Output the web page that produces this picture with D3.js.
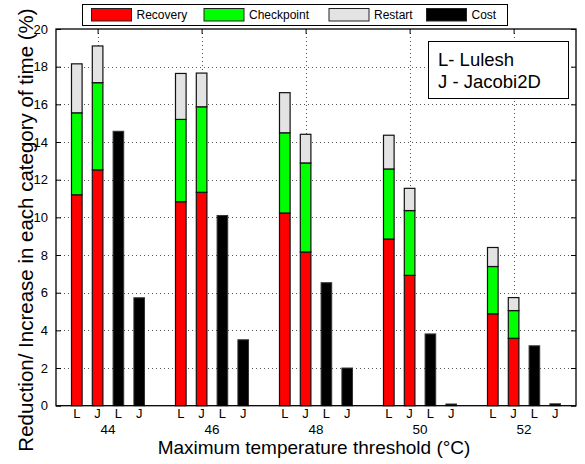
<!DOCTYPE html>
<html>
<head>
<meta charset="utf-8">
<script src="https://cdn.jsdelivr.net/npm/d3@7"></script>
<style>
  body { margin: 0; background: #fff; }
  svg { display: block; font-family: "Liberation Sans", Arial, Helvetica, sans-serif; }
</style>
</head>
<body>
<div id="chart"></div>
<script>
// data
const thresholds = ["44", "46", "48", "50", "52"];
const apps = ["L", "J"];
const categories = ["Recovery", "Checkpoint", "Restart", "Cost"];
const colors = ["#ff0000", "#00ff00", "#e3e3e3", "#000000"];

const recoveryL   = [11.2, 10.83, 10.23, 8.85, 4.88];
const checkpointL = [4.35, 4.37, 4.26, 3.72, 2.51];
const restartL    = [2.6, 2.44, 2.13, 1.79, 1.01];
const recoveryJ   = [12.52, 11.33, 8.16, 6.92, 3.58];
const checkpointJ = [4.63, 4.54, 4.73, 3.44, 1.47];
const restartJ    = [1.95, 1.79, 1.52, 1.18, 0.69];
const costL = [14.57, 10.1, 6.53, 3.81, 3.18];
const costJ = [5.73, 3.5, 2.0, 0.09, 0.1];
const yTicks = [0, 2, 4, 6, 8, 10, 12, 14, 16, 18, 20];

const W = 585, H = 464;
const plot = { left: 56, right: 576, top: 29, bottom: 405.7 };

const svg = d3.select("#chart").append("svg").attr("width", W).attr("height", H);

// slot positions: 5 slots per group (stacked L, stacked J, cost L, cost J, gap)
const x = d3.scaleLinear().domain([-1, 24]).range([plot.left, plot.right]);
const y = d3.scaleLinear().domain([0, 20]).range([plot.bottom, plot.top]);
const barW = (x(1) - x(0)) * 0.51;

// table for stacking
const stackRows = [];
thresholds.forEach((t, g) => {
    stackRows.push({ slot: g * 5, Recovery: recoveryL[g], Checkpoint: checkpointL[g], Restart: restartL[g] });
    stackRows.push({ slot: g * 5 + 1, Recovery: recoveryJ[g], Checkpoint: checkpointJ[g], Restart: restartJ[g] });
});
const costRows = [];
thresholds.forEach((t, g) => {
    costRows.push({ slot: g * 5 + 2, v: costL[g] });
    costRows.push({ slot: g * 5 + 3, v: costJ[g] });
});

// ===== grid (dotted)
const grid = svg.append("g").attr("stroke", "#555").attr("stroke-dasharray", "1,3").attr("stroke-width", 1);
grid.selectAll("line.h").data(yTicks.slice(1, -1)).enter().append("line")
    .attr("x1", plot.left).attr("x2", plot.right)
    .attr("y1", d => Math.round(y(d)) + 0.5).attr("y2", d => Math.round(y(d)) + 0.5);
const xGrid = thresholds.map((t, g) => g * 5 + 1);
grid.selectAll("line.v").data(xGrid).enter().append("line")
    .attr("y1", plot.top).attr("y2", plot.bottom)
    .attr("x1", d => Math.round(x(d)) + 0.5).attr("x2", d => Math.round(x(d)) + 0.5);

// ===== stacked bars
const series = d3.stack().keys(categories.slice(0, 3))(stackRows);
svg.append("g").selectAll("g").data(series).enter().append("g")
    .attr("fill", (d, i) => colors[i])
    .selectAll("rect").data(d => d).enter().append("rect")
    .attr("x", d => x(d.data.slot) - barW / 2)
    .attr("width", barW)
    .attr("y", d => y(d[1]))
    .attr("height", d => y(d[0]) - y(d[1]))
    .attr("stroke", "#111").attr("stroke-width", 1.2);

// ===== cost bars
svg.append("g").selectAll("rect").data(costRows).enter().append("rect")
    .attr("x", d => x(d.slot) - barW / 2)
    .attr("width", barW)
    .attr("y", d => y(d.v))
    .attr("height", d => y(0) - y(d.v))
    .attr("fill", colors[3]).attr("stroke", "#333").attr("stroke-width", 1);

// ===== axes (box with inward ticks)
const axL = svg.append("g").attr("transform", `translate(${plot.left},0)`)
    .call(d3.axisLeft(y).tickValues(yTicks).tickSize(-5).tickPadding(8).tickFormat(d3.format("d")));
axL.select(".domain").remove();
axL.selectAll("text").attr("font-size", 13).attr("fill", "#000");
const axR = svg.append("g").attr("transform", `translate(${plot.right},0)`)
    .call(d3.axisRight(y).tickValues(yTicks).tickSize(-5).tickFormat(""));
axR.select(".domain").remove();
const axT = svg.append("g").attr("transform", `translate(0,${plot.top})`)
    .call(d3.axisTop(x).tickValues(xGrid).tickSize(-5).tickFormat(""));
axT.select(".domain").remove();
svg.selectAll(".tick line").attr("stroke", "#000");

svg.append("rect")
    .attr("x", plot.left).attr("y", plot.top)
    .attr("width", plot.right - plot.left).attr("height", plot.bottom - plot.top)
    .attr("fill", "none").attr("stroke", "#000").attr("stroke-width", 1.3);

// x labels: L J L J per group, then the threshold
const slotLabels = [];
thresholds.forEach((t, g) => {
    [0, 1, 2, 3].forEach(k => slotLabels.push({ slot: g * 5 + k, text: apps[k % 2] }));
});
svg.append("g").selectAll("text").data(slotLabels).enter().append("text")
    .attr("x", d => x(d.slot)).attr("y", 418)
    .attr("text-anchor", "middle").attr("font-size", 13).text(d => d.text);
svg.append("g").selectAll("text").data(thresholds).enter().append("text")
    .attr("x", (d, g) => x(g * 5 + 1.5)).attr("y", 433.5)
    .attr("text-anchor", "middle").attr("font-size", 13.5).text(d => d);

svg.append("text")
    .attr("x", (plot.left + plot.right) / 2 - 2).attr("y", 454)
    .attr("text-anchor", "middle").attr("font-size", 19)
    .text("Maximum temperature threshold (°C)");

svg.append("text")
    .attr("transform", `translate(33,230) rotate(-90)`)
    .attr("text-anchor", "middle").attr("font-size", 20.5)
    .text("Reduction/ Increase in each category of time (%)");

// ===== legend
const leg = svg.append("g");
leg.append("rect").attr("x", 82.5).attr("y", 4.5).attr("width", 425).attr("height", 21)
    .attr("fill", "#fff").attr("stroke", "#000").attr("stroke-width", 1);
const legX = [91.5, 204, 329, 426.5];
const legItems = leg.selectAll("g").data(categories).enter().append("g")
    .attr("transform", (d, i) => `translate(${legX[i]},8.5)`);
legItems.append("rect").attr("width", 40).attr("height", 12.5)
    .attr("fill", (d, i) => colors[i]).attr("stroke", "#222").attr("stroke-width", 1);
legItems.append("text").attr("x", 45).attr("y", 10.5).attr("font-size", 12).text(d => d);

// ===== annotation box
const note = svg.append("g");
note.append("rect").attr("x", 428.5).attr("y", 41.5).attr("width", 140).attr("height", 57)
    .attr("fill", "#fff").attr("stroke", "#000").attr("stroke-width", 1);
note.append("text").attr("x", 438).attr("y", 66).attr("font-size", 18.5).text("L- Lulesh");
note.append("text").attr("x", 438).attr("y", 87.5).attr("font-size", 18.5).text("J - Jacobi2D");
</script>
</body>
</html>
